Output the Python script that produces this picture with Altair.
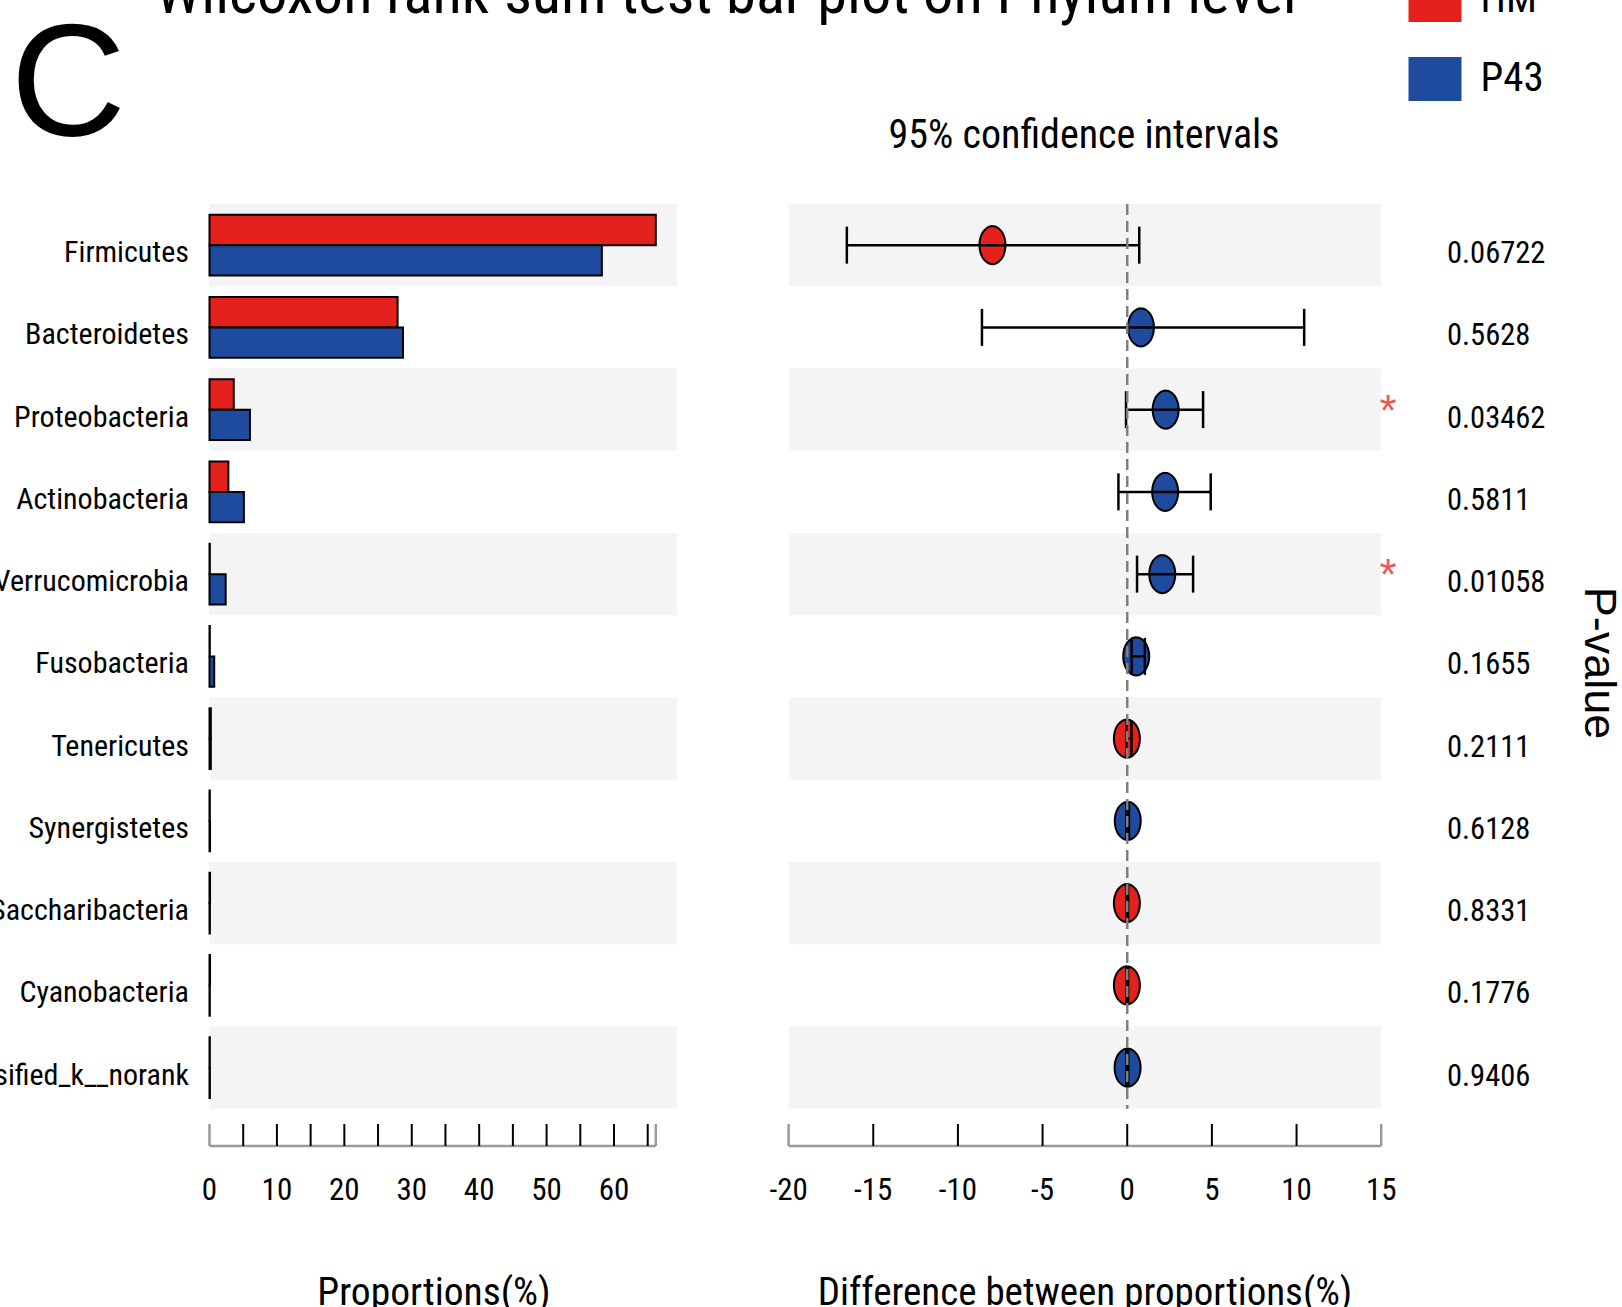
import altair as alt
import numpy as np
import pandas as pd

# ---- data -------------------------------------------------------------
categories = [
    "Firmicutes", "Bacteroidetes", "Proteobacteria", "Actinobacteria",
    "Verrucomicrobia", "Fusobacteria", "Tenericutes", "Synergistetes",
    "Saccharibacteria", "Cyanobacteria", "unclassified_k__norank",
]
groups = ["HM", "P43"]
group_colors = ["#E5211D", "#1F4B9F"]

# mean relative abundance (%) in each group
hm_prop = [66.2, 27.9, 3.6, 2.8, 0.05, 0.05, 0.2, 0.05, 0.08, 0.08, 0.05]
p43_prop = [58.2, 28.7, 6.0, 5.1, 2.4, 0.7, 0.2, 0.08, 0.06, 0.05, 0.06]

# difference between proportions (%) with 95% confidence interval
diff_mean = [-7.96, 0.81, 2.27, 2.24, 2.07, 0.53, -0.02, 0.03, -0.02, -0.02, 0.02]
ci_low = [-16.56, -8.58, -0.07, -0.52, 0.58, 0.26, -0.05, -0.05, -0.06, -0.05, -0.05]
ci_high = [0.71, 10.45, 4.48, 4.93, 3.89, 1.04, 0.25, 0.10, 0.05, 0.05, 0.06]
p_values = ["0.06722", "0.5628", "0.03462", "0.5811", "0.01058", "0.1655",
            "0.2111", "0.6128", "0.8331", "0.1776", "0.9406"]

# axis ticks and labels
prop_ticks = [5, 10, 15, 20, 25, 30, 35, 40, 45, 50, 55, 60, 65]
prop_labels = [0, 10, 20, 30, 40, 50, 60]
diff_ticks = [-15, -10, -5, 0, 5, 10]
diff_labels = [-20, -15, -10, -5, 0, 5, 10, 15]

# ---- styling ----------------------------------------------------------
W, H = 1622, 1307
NARROW = "Roboto Condensed, Liberation Sans Narrow, Liberation Sans, sans-serif"
SANS = "Liberation Sans, Arial, sans-serif"
BAND_FILL = "#F4F4F4"
AXIS_GRAY = "#9A9A9A"
ROW_TOP, ROW_BOTTOM = 204, 1108.75
AXIS_Y, TICK_TOP, LABEL_BASE = 1146, 1124, 1200

prop_max = max(hm_prop)
prop_panel_end = 69.35
prop_scale = alt.Scale(domain=[0, prop_max], range=[209.5, 655.8], nice=False, zero=False)
diff_scale = alt.Scale(domain=[diff_labels[0], diff_labels[-1]], range=[788.6, 1381.2],
                       nice=False, zero=False)
y_scale = alt.Scale(domain=categories, range=[ROW_TOP, ROW_BOTTOM],
                    paddingInner=0, paddingOuter=0)
color_scale = alt.Scale(domain=groups, range=group_colors)

# rectangular legend swatch and an upright ellipse for the CI points
SWATCH = "M-1,-0.83L1,-0.83L1,0.83L-1,0.83Z"
theta = np.linspace(0, 2 * np.pi, 49)[:-1]
ELLIPSE = "M" + "L".join(f"{0.684 * np.sin(t):.3f},{-np.cos(t):.3f}" for t in theta) + "Z"

legend = alt.Legend(
    orient="none", legendX=1408.5, legendY=-26.6, title=None, padding=0,
    symbolType=SWATCH, symbolSize=2809, symbolStrokeWidth=0, symbolOpacity=1,
    labelFont=NARROW, labelFontSize=41, labelOffset=19, rowPadding=30,
    labelColor="black",
)

y_enc = alt.Y("cat:N", scale=y_scale, axis=None)

# ---- tables -----------------------------------------------------------
bands = pd.DataFrame({"cat": categories[::2]})
bands["p0"], bands["p1"] = 0, prop_panel_end
bands["d0"], bands["d1"] = diff_labels[0], diff_labels[-1]

bars_df = pd.DataFrame({
    "cat": categories * 2,
    "group": ["HM"] * len(categories) + ["P43"] * len(categories),
    "value": hm_prop + p43_prop,
})
bars_df["base"] = 0

ci_df = pd.DataFrame({"cat": categories, "diff": diff_mean, "lo": ci_low,
                      "hi": ci_high, "p": p_values})
ci_df["group"] = np.where(ci_df["diff"] < 0, "HM", "P43")
ci_df["sig"] = ci_df["p"].astype(float) < 0.05

# ---- panel backgrounds -------------------------------------------------
left_bands = alt.Chart(bands).mark_rect(color=BAND_FILL).encode(
    x=alt.X("p0:Q", scale=prop_scale, axis=None), x2="p1:Q", y=y_enc)
right_bands = alt.Chart(bands).mark_rect(color=BAND_FILL).encode(
    x=alt.X("d0:Q", scale=diff_scale, axis=None), x2="d1:Q", y=y_enc)

# ---- grouped proportion bars --------------------------------------------
bars = alt.Chart(bars_df).mark_bar(stroke="black", strokeWidth=2, opacity=1).encode(
    x=alt.X("value:Q", scale=prop_scale, axis=None, stack=None),
    x2="base:Q",
    y=y_enc,
    yOffset=alt.YOffset("group:N", scale=alt.Scale(domain=groups, paddingInner=0,
                                                  paddingOuter=0.355)),
    color=alt.Color("group:N", scale=color_scale, legend=legend),
)

# ---- confidence intervals -------------------------------------------------
points = alt.Chart(ci_df).mark_point(filled=True, shape=ELLIPSE, size=1444,
                                     stroke="black", strokeWidth=2, opacity=1).encode(
    x=alt.X("diff:Q", scale=diff_scale, axis=None),
    y=y_enc,
    color=alt.Color("group:N", scale=color_scale, legend=legend),
)
ci_line = alt.Chart(ci_df).mark_rule(color="black", strokeWidth=2.5).encode(
    x=alt.X("lo:Q", scale=diff_scale, axis=None), x2="hi:Q", y=y_enc)
ci_caps = alt.Chart(ci_df).transform_fold(["lo", "hi"], as_=["end", "pos"]).mark_tick(
    color="black", thickness=2.5, size=37, opacity=1).encode(
    x=alt.X("pos:Q", scale=diff_scale, axis=None), y=y_enc)
zero_line = alt.Chart(pd.DataFrame({"zero": [0]})).mark_rule(
    color="#7F7F7F", strokeWidth=2.5, strokeDash=[11, 6]).encode(
    x=alt.X("zero:Q", scale=diff_scale, axis=None),
    y=alt.value(ROW_TOP), y2=alt.value(ROW_BOTTOM))


# ---- bottom axes drawn from the tick lists ------------------------------
def axis_layers(scale, lo, hi, ticks, labels):
    ends = pd.DataFrame({"v": [lo, hi]})
    line = alt.Chart(pd.DataFrame({"lo": [lo], "hi": [hi]})).mark_rule(
        color=AXIS_GRAY, strokeWidth=2.5).encode(
        x=alt.X("lo:Q", scale=scale, axis=None), x2="hi:Q", y=alt.value(AXIS_Y))
    end_ticks = alt.Chart(ends).mark_rule(color=AXIS_GRAY, strokeWidth=2.5).encode(
        x=alt.X("v:Q", scale=scale, axis=None),
        y=alt.value(TICK_TOP), y2=alt.value(AXIS_Y))
    inner = alt.Chart(pd.DataFrame({"v": ticks})).mark_rule(
        color="black", strokeWidth=2).encode(
        x=alt.X("v:Q", scale=scale, axis=None),
        y=alt.value(TICK_TOP), y2=alt.value(AXIS_Y))
    lab_df = pd.DataFrame({"v": labels, "t": [str(v) for v in labels]})
    text = alt.Chart(lab_df).mark_text(font=NARROW, fontSize=31, align="center",
                                       baseline="alphabetic", color="black").encode(
        x=alt.X("v:Q", scale=scale, axis=None), y=alt.value(LABEL_BASE), text="t:N")
    return [line, end_ticks, inner, text]


prop_axis = axis_layers(prop_scale, 0, prop_max, prop_ticks, prop_labels)
diff_axis = axis_layers(diff_scale, diff_labels[0], diff_labels[-1], diff_ticks, diff_labels)

# ---- row labels, p-values, significance marks --------------------------
cat_labels = alt.Chart(ci_df).mark_text(font=NARROW, fontSize=30, align="right",
                                        baseline="alphabetic", dy=17, color="black").encode(
    x=alt.value(189), y=y_enc, text="cat:N")
p_text = alt.Chart(ci_df).mark_text(font=NARROW, fontSize=30.5, align="left",
                                    baseline="alphabetic", dy=18, color="black").encode(
    x=alt.value(1447), y=y_enc, text="p:N")
stars = alt.Chart(ci_df).transform_filter("datum.sig").mark_text(
    text="*", font=SANS, fontSize=44, align="center", baseline="alphabetic", dy=16,
    color="#E8585A").encode(x=alt.value(1388), y=y_enc)


# ---- free text -----------------------------------------------------------
def label(txt, x, y, font=NARROW, size=42, align="center", baseline="alphabetic", angle=0):
    return alt.Chart(pd.DataFrame({"t": [txt]})).mark_text(
        font=font, fontSize=size, align=align, baseline=baseline, angle=angle,
        color="black").encode(x=alt.value(x), y=alt.value(y), text="t:N")


texts = [
    label("Wilcoxon rank-sum test bar plot on Phylum level", 726, 13, size=60.5),
    label("C", 10.6, 135, font=SANS, size=160, align="left"),
    label("95% confidence intervals", 1084, 148, size=40),
    label("Proportions(%)", 434, 1305, size=39.5),
    label("Difference between proportions(%)", 1085, 1305, size=39),
    label("P-value", 1599, 663, font=SANS, size=45, baseline="middle", angle=90),
]

chart = alt.layer(
    left_bands, right_bands, bars, points, ci_line, ci_caps, zero_line,
    *prop_axis, *diff_axis, cat_labels, p_text, stars, *texts,
).resolve_scale(x="independent").properties(
    width=W, height=H, padding=0,
    autosize=alt.AutoSizeParams(type="none"),
    background="white",
).configure_view(stroke=None)

chart.save("out.html", embed_options={"renderer": "svg", "actions": False})
